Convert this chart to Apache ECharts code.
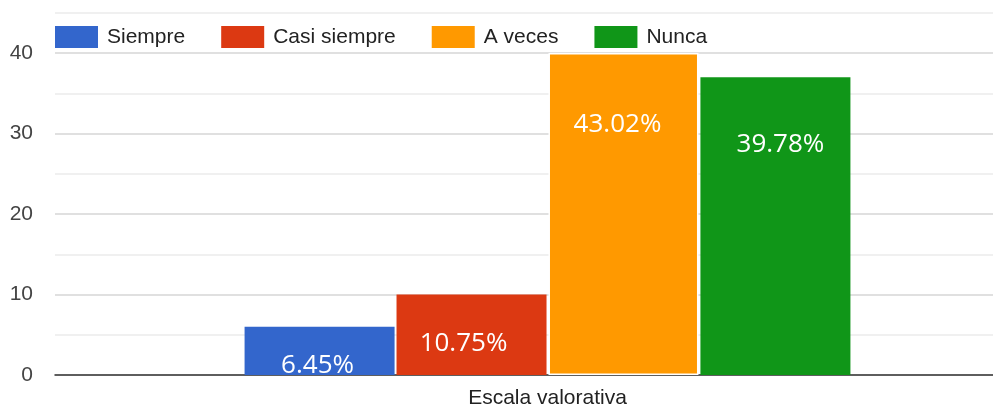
<!DOCTYPE html>
<html>
<head>
<meta charset="utf-8">
<style>
  html, body { margin: 0; padding: 0; background: #fff; }
  #main { width: 993px; height: 411px; }
</style>
<script src="https://cdn.jsdelivr.net/npm/echarts@6/dist/echarts.min.js"></script>
</head>
<body>
<div id="main"></div>
<script>
// data
var categories = ['Escala valorativa'];
var seriesNames = ['Siempre', 'Casi siempre', 'A veces', 'Nunca'];
var seriesValues = [6, 10, 40, 37];
var percentLabels = ['6.45%', '10.75%', '43.02%', '39.78%'];
var yTickLabels = [0, 10, 20, 30, 40];

// look
var colors = ['#3366cc', '#dc3912', '#ff9900', '#109618'];
var labelShift = [[-2, 26], [-8, 36], [-6, 59], [5, 54]];

var chart = echarts.init(document.getElementById('main'));

var series = [];
for (var i = 0; i < seriesNames.length; i++) {
    var item = { value: seriesValues[i] };
    if (i == 2) {
        // the highlighted bar in the original
        item.itemStyle = { borderColor: '#ffffff', borderWidth: 1.5 };
    }
    series.push({
        name: seriesNames[i],
        type: 'bar',
        barWidth: 150,
        barGap: '1.3%',
        data: [item],
        itemStyle: { color: colors[i] },
        label: {
            show: true,
            position: 'insideTop',
            distance: 0,
            offset: labelShift[i],
            formatter: percentLabels[i],
            color: '#ffffff',
            fontFamily: 'Open Sans',
            fontSize: 26
        },
        animation: false
    });
}

var option = {
    color: colors,
    animation: false,
    legend: {
        left: 55,
        top: 26,
        padding: 0,
        itemWidth: 43,
        itemHeight: 22,
        itemGap: 36,
        icon: 'rect',
        textStyle: {
            fontFamily: 'Liberation Sans',
            fontSize: 21,
            color: '#222222',
            padding: [0, 0, 0, 4]
        }
    },
    grid: {
        left: 55,
        top: 12.75,
        width: 985,
        bottom: 36,
        outerBoundsMode: 'none',
        containLabel: false
    },
    xAxis: {
        type: 'category',
        data: categories,
        axisTick: { show: false },
        axisLine: { lineStyle: { color: '#333333', width: 1.5 } },
        axisLabel: {
            fontFamily: 'Liberation Sans',
            fontSize: 21,
            color: '#222222',
            margin: 13
        }
    },
    yAxis: {
        type: 'value',
        min: 0,
        max: 45,
        interval: 5,
        axisLine: { show: false },
        axisTick: { show: false },
        axisLabel: {
            fontFamily: 'Liberation Sans',
            fontSize: 21,
            color: '#444444',
            margin: 22,
            formatter: function(v) {
                return yTickLabels.indexOf(v) >= 0 ? String(v) : '';
            }
        },
        splitLine: {
            lineStyle: { color: ['#d6d6d6', '#ebebeb'], width: 1.5 }
        }
    },
    series: series
};

chart.setOption(option);
</script>
</body>
</html>
